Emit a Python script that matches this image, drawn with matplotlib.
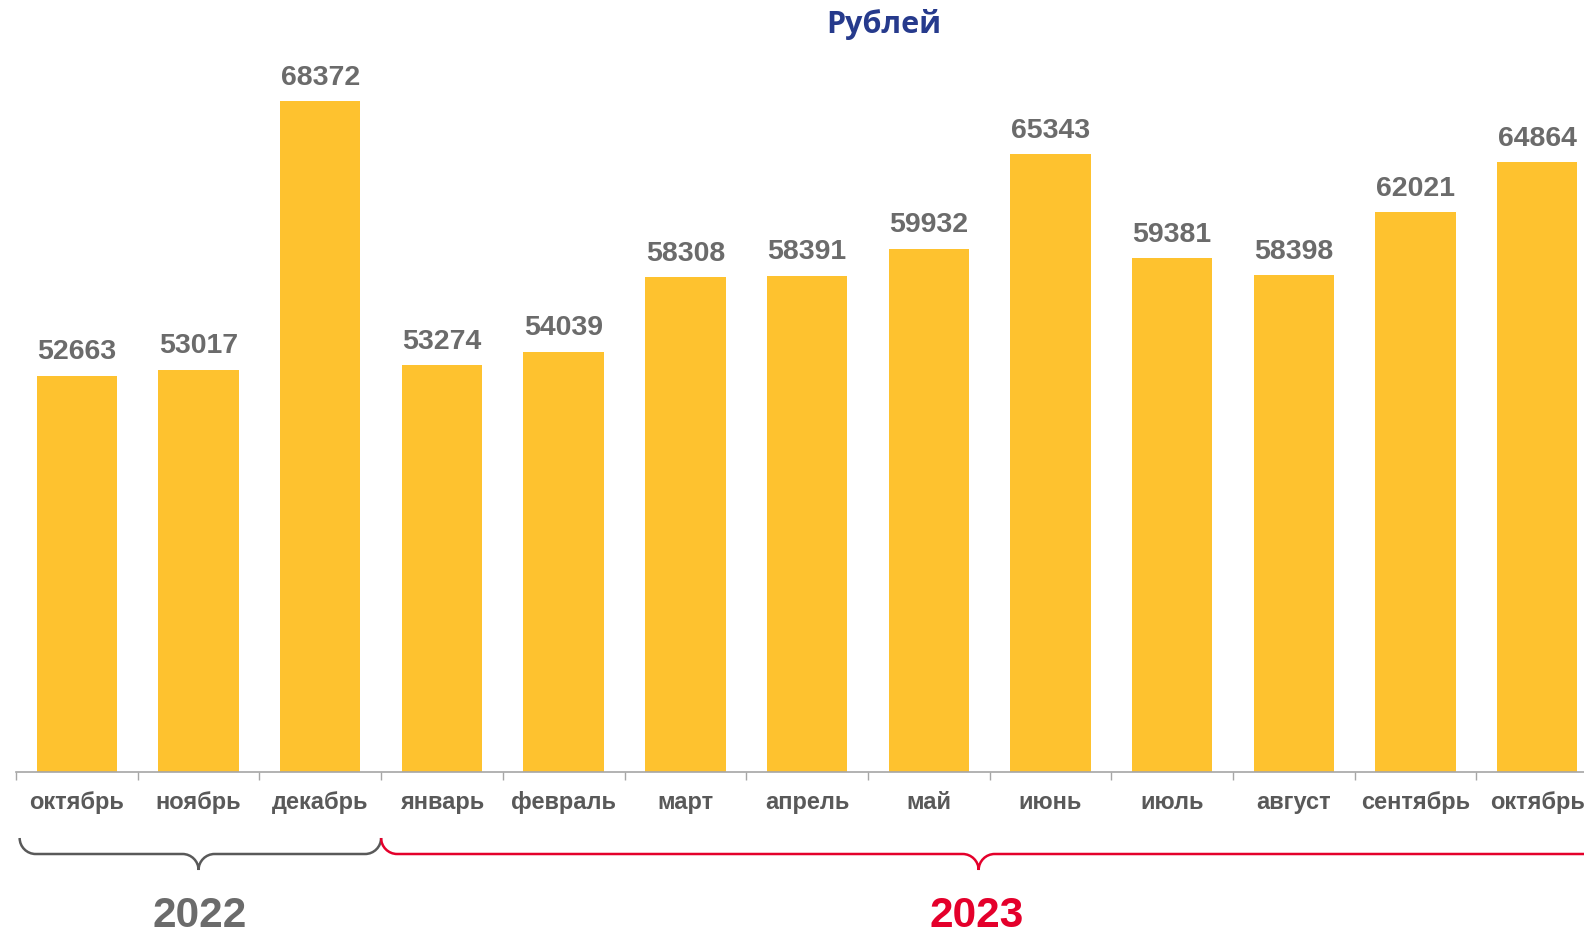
import matplotlib
matplotlib.use("Agg")
import matplotlib.pyplot as plt
from matplotlib.path import Path
from matplotlib.patches import PathPatch
import matplotlib.transforms as mtransforms

months = ["октябрь", "ноябрь", "декабрь", "январь", "февраль", "март", "апрель",
          "май", "июнь", "июль", "август", "сентябрь", "октябрь"]
values = [52663, 53017, 68372, 53274, 54039, 58308, 58391, 59932, 65343, 59381,
          58398, 62021, 64864]
title = "Рублей"
years = ["2022", "2023"]
year_spans = [(-0.47, 2.5), (2.5, 12.62)]
year_tips = [1.0, 7.41]

W, H = 1584, 936
fig = plt.figure(figsize=(W / 100, H / 100), dpi=100)
plt.rcParams['font.family'] = ['Liberation Sans', 'DejaVu Sans']

# axes: left at 16px, category width 121.7px, baseline at y=772px
cat_w = 121.7
ax_left = 16 / W
ax_width = 13 * cat_w / W
ymin, ymax = 30000, 72000
px_per_unit = 0.017487
ax_h_px = (ymax - ymin) * px_per_unit
ax_bottom = (H - 772) / H
ax = fig.add_axes([ax_left, ax_bottom, ax_width, ax_h_px / H])
ax.set_xlim(-0.5, 12.5)
ax.set_ylim(ymin, ymax)

x = list(range(len(months)))
bars = ax.bar(x, values, width=0.66, color="#FEC22F", zorder=2)
ax.bar_label(bars, labels=[str(v) for v in values], padding=7.5,
             fontsize=20.5, fontweight="bold", color="#6B6B6B")

for s in ["top", "right", "left"]:
    ax.spines[s].set_visible(False)
ax.spines["bottom"].set_color("#A6A6A6")
ax.spines["bottom"].set_linewidth(1.2)
ax.set_yticks([])
ax.set_xticks(x)
ax.set_xticklabels(months, fontsize=17, fontweight="bold", color="#595959")
ax.tick_params(axis="x", which="major", length=0, pad=13.5)
ax.set_xticks([i - 0.5 for i in range(14)], minor=True)
ax.tick_params(axis="x", which="minor", length=5.5, width=1, color="#A6A6A6", direction="out")

fig.text(884 / W, 1 - 25 / H, title, ha="center", va="center",
         fontsize=22, fontweight="bold", color="#263A8C", family=["Open Sans", "DejaVu Sans"])

# braces: x in data units, y in figure pixels from top
trans = mtransforms.blended_transform_factory(ax.transData, fig.transFigure)

def fy(py):
    return 1 - py / H

def brace(x0, x1, xm, color):
    y_top, y_mid, y_tip = 838, 854, 870
    r = 16 / cat_w
    k = 0.55
    verts = [
        (x0, fy(y_top)),
        (x0, fy(y_top + (y_mid - y_top) * k)), (x0 + r * (1 - k), fy(y_mid)), (x0 + r, fy(y_mid)),
        (xm - r, fy(y_mid)),
        (xm - r * (1 - k), fy(y_mid)), (xm, fy(y_mid + (y_tip - y_mid) * (1 - k))), (xm, fy(y_tip)),
        (xm, fy(y_mid + (y_tip - y_mid) * (1 - k))), (xm + r * (1 - k), fy(y_mid)), (xm + r, fy(y_mid)),
        (x1 - r, fy(y_mid)),
        (x1 - r * (1 - k), fy(y_mid)), (x1, fy(y_top + (y_mid - y_top) * k)), (x1, fy(y_top)),
    ]
    codes = [Path.MOVETO,
             Path.CURVE4, Path.CURVE4, Path.CURVE4,
             Path.LINETO,
             Path.CURVE4, Path.CURVE4, Path.CURVE4,
             Path.CURVE4, Path.CURVE4, Path.CURVE4,
             Path.LINETO,
             Path.CURVE4, Path.CURVE4, Path.CURVE4]
    p = PathPatch(Path(verts, codes), facecolor="none", edgecolor=color,
                  linewidth=1.8, transform=trans, clip_on=False)
    fig.add_artist(p)

year_colors = ["#595959", "#E4002B"]
for (x0, x1), xm, c in zip(year_spans, year_tips, year_colors):
    brace(x0, x1, xm, c)

fig.text(200 / W, 1 - 927 / H, years[0], ha="center", va="baseline",
         fontsize=30.5, fontweight="bold", color="#6B6B6B")
fig.text(977 / W, 1 - 927 / H, years[1], ha="center", va="baseline",
         fontsize=30.5, fontweight="bold", color="#E4002B")

fig.savefig("out.png", dpi=100)
